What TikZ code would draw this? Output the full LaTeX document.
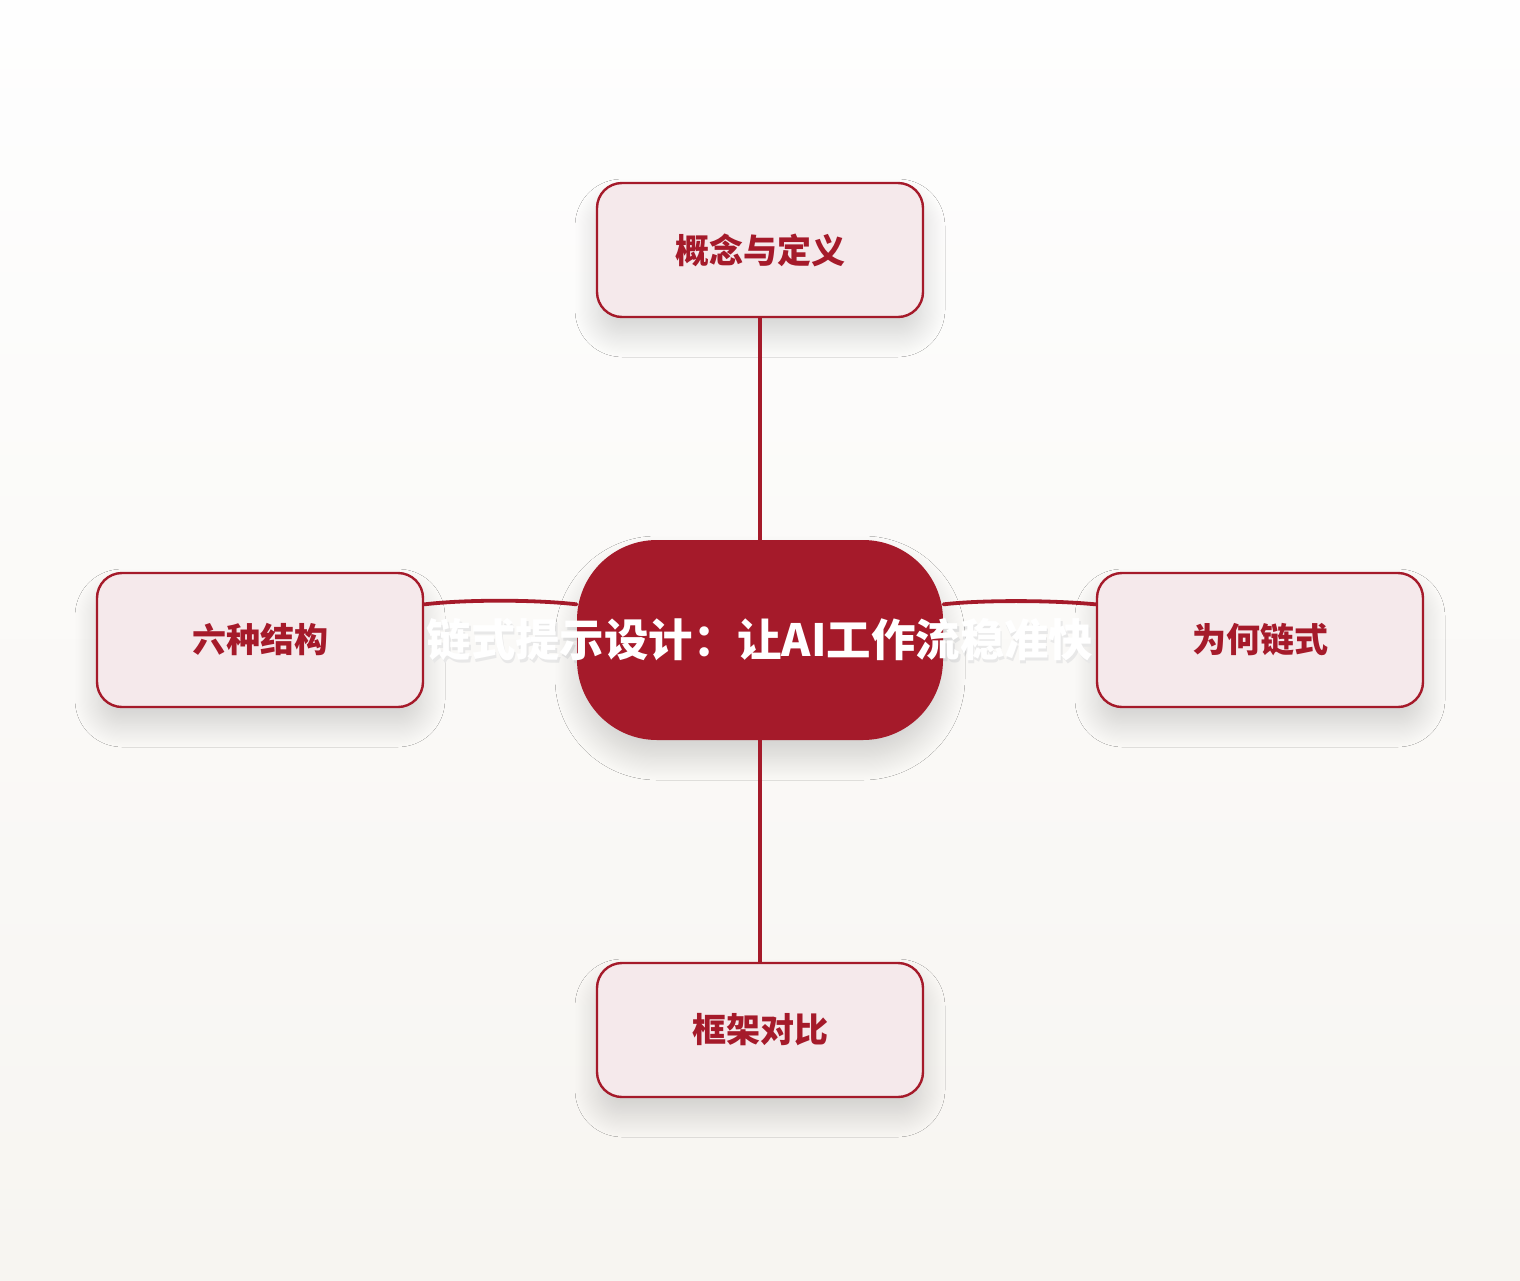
\documentclass[tikz,border=0pt]{standalone}
\usepackage{fontspec}
\newfontfamily\cjk{Noto Sans CJK SC}
\usetikzlibrary{shadows.blur}
\definecolor{kette}{HTML}{A51A2A}
\definecolor{kastengrund}{HTML}{F5E9EB}
\begin{document}
\begin{tikzpicture}[x=0.5pt,y=-0.5pt,
  schatten/.style={blur shadow={shadow xshift=0pt,shadow yshift=-9pt,shadow blur radius=11pt,
    shadow blur steps=20,shadow opacity=16}},
  kasten/.style={draw=kette,line width=1.2pt,fill=kastengrund,rounded corners=12.5pt,
    minimum width=163pt,minimum height=67pt,text=kette,schatten,
    font=\cjk\bfseries\fontsize{17pt}{20pt}\selectfont},
  hub/.style={fill=kette,rounded corners=40pt,minimum width=183pt,minimum height=100pt,
    text=white,schatten,font=\cjk\bfseries\fontsize{22.2pt}{26pt}\selectfont},
  hubschatten/.style={text=black!9,font=\cjk\bfseries\fontsize{22.2pt}{26pt}\selectfont},
  kante/.style={draw=kette,line width=1.9pt,line cap=round}]
% Hintergrund
\shade[top color=white!60!gray!2,bottom color={rgb,255:red,247;green,245;blue,241}]
  (0,0) rectangle (1520,1280);
\useasboundingbox (0,0) rectangle (1520,1280);
% Knoten
\node[kasten] (oben) at (760,250) {概念与定义};
\node[kasten] (links) at (260,640) {六种结构};
\node[kasten] (rechts) at (1260,640) {为何链式};
\node[kasten] (unten) at (760,1030) {框架对比};
\node[hubschatten] (titelschatten) at (761.5,643) {\makebox[0pt]{链式提示设计：让AI工作流稳准快}};
\node[hub] (hub) at (760,640) {\makebox[0pt]{\raisebox{-1.5pt}{链式提示设计：让AI工作流稳准快}}};
% Verbindungen
\draw[kante] (oben.south) -- (hub.north);
\draw[kante] (hub.south) -- (unten.north);
\draw[kante] (links.east |- hub.169) .. controls (470,599) and (540,600) .. (hub.169);
\draw[kante] (hub.11) .. controls (980,600) and (1050,600) .. (rechts.west |- hub.11);
\end{tikzpicture}
\end{document}
